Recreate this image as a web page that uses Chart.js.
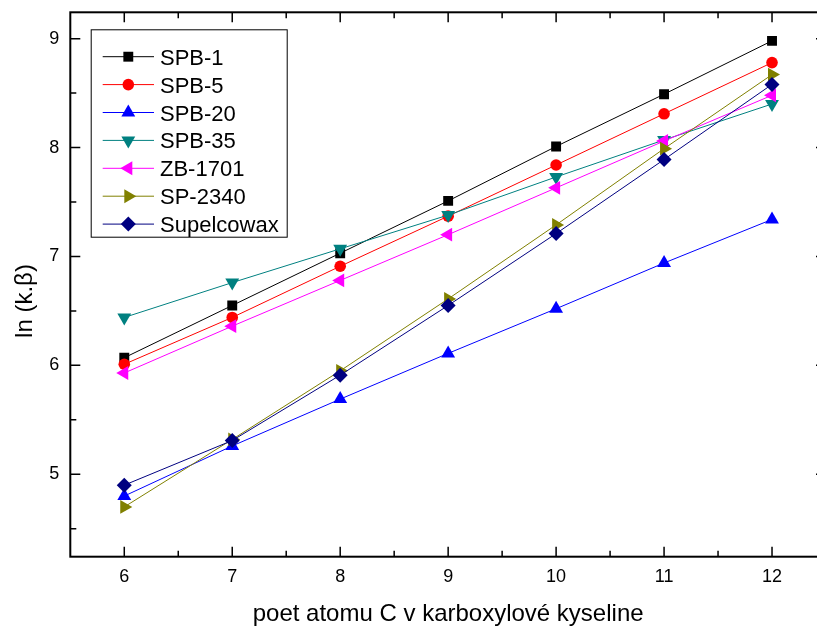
<!DOCTYPE html>
<html>
<head>
<meta charset="utf-8">
<script src="https://cdn.jsdelivr.net/npm/chart.js@4/dist/chart.umd.min.js"></script>
<style>
  html, body { margin: 0; padding: 0; background: #fff; overflow: hidden; width: 817px; height: 626px; }
  #wrap { position: relative; width: 830px; height: 626px; }
  canvas { display: block; }
</style>
</head>
<body>
<div id="wrap"><canvas id="c" width="830" height="626"></canvas></div>
<script>
// Number of carbon atoms in the carboxylic acid
const carbonAtoms = [6, 7, 8, 9, 10, 11, 12];

// ln(k.beta) per stationary phase
const spb1       = [6.07, 6.55, 7.03, 7.51, 8.01, 8.49, 8.98];
const spb5       = [6.01, 6.44, 6.91, 7.37, 7.84, 8.31, 8.78];
const spb20      = [4.80, 5.26, 5.69, 6.11, 6.52, 6.94, 7.34];
const spb35      = [6.44, 6.76, 7.07, 7.38, 7.73, 8.07, 8.40];
const zb1701     = [5.93, 6.36, 6.78, 7.20, 7.63, 8.06, 8.48];
const sp2340     = [4.70, 5.32, 5.95, 6.61, 7.29, 7.99, 8.67];
const supelcowax = [4.90, 5.31, 5.91, 6.55, 7.21, 7.89, 8.58];

const seriesNames = ['SPB-1', 'SPB-5', 'SPB-20', 'SPB-35', 'ZB-1701', 'SP-2340', 'Supelcowax'];
const seriesValues = [spb1, spb5, spb20, spb35, zb1701, sp2340, supelcowax];

// Tick labels
const xTicks = [6, 7, 8, 9, 10, 11, 12];
const yTicks = [5, 6, 7, 8, 9];

const xTitle = 'poet atomu C v karboxylové kyseline';
const yTitle = 'ln (k.\u03B2)';

// Marker / line styling for each series
const styles = [
  { color: '#000000', pointStyle: 'rect',     rotation: 0,   radius: 7   },
  { color: '#ff0000', pointStyle: 'circle',   rotation: 0,   radius: 5.8 },
  { color: '#0000ff', pointStyle: 'triangle', rotation: 0,   radius: 8   },
  { color: '#008080', pointStyle: 'triangle', rotation: 180, radius: 8   },
  { color: '#ff00ff', pointStyle: 'triangle', rotation: 270, radius: 8   },
  { color: '#808000', pointStyle: 'triangle', rotation: 90,  radius: 8   },
  { color: '#000080', pointStyle: 'rectRot',  rotation: 0,   radius: 7.5 }
];

const FONT = '"Liberation Sans", Arial, Helvetica, sans-serif';

const datasets = seriesNames.map((name, i) => ({
  label: name,
  data: carbonAtoms.map((x, j) => ({ x: x, y: seriesValues[i][j] })),
  borderColor: styles[i].color,
  backgroundColor: styles[i].color,
  borderWidth: 1,
  tension: 0,
  pointStyle: styles[i].pointStyle,
  pointRotation: styles[i].rotation,
  pointRadius: styles[i].radius,
  pointHoverRadius: styles[i].radius,
  pointBorderWidth: 0,
  pointBackgroundColor: styles[i].color,
  order: seriesNames.length - 1 - i
}));

function drawMarker(ctx, st, x, y) {
  ctx.save();
  ctx.fillStyle = st.color;
  ctx.strokeStyle = st.color;
  if (Chart.helpers && Chart.helpers.drawPoint) {
    Chart.helpers.drawPoint(ctx, { pointStyle: st.pointStyle, rotation: st.rotation, radius: st.radius, borderWidth: 0 }, x, y);
  }
  ctx.restore();
}

// Frame, inward ticks, axis titles and the boxed legend
const framePlugin = {
  id: 'frame',
  afterDatasetsDraw(chart) {
    const ctx = chart.ctx;
    const a = chart.chartArea;
    const xs = chart.scales.x, ys = chart.scales.y;
    ctx.save();
    ctx.strokeStyle = '#000';
    ctx.lineWidth = 1.5;
    // major + minor ticks on all four sides, pointing inward
    const xMinor = xTicks.slice(0, -1).map(v => v + 0.5);
    const yMinor = [4.5].concat(yTicks.map(v => v + 0.5)).filter(v => v < ys.max);
    ctx.beginPath();
    xTicks.forEach(v => { const p = xs.getPixelForValue(v);
      ctx.moveTo(p, a.bottom); ctx.lineTo(p, a.bottom - 10);
      ctx.moveTo(p, a.top); ctx.lineTo(p, a.top + 10); });
    xMinor.forEach(v => { const p = xs.getPixelForValue(v);
      ctx.moveTo(p, a.bottom); ctx.lineTo(p, a.bottom - 6);
      ctx.moveTo(p, a.top); ctx.lineTo(p, a.top + 6); });
    yTicks.forEach(v => { const p = ys.getPixelForValue(v);
      ctx.moveTo(a.left, p); ctx.lineTo(a.left + 10, p);
      ctx.moveTo(a.right, p); ctx.lineTo(a.right - 10, p); });
    yMinor.forEach(v => { const p = ys.getPixelForValue(v);
      ctx.moveTo(a.left, p); ctx.lineTo(a.left + 6, p);
      ctx.moveTo(a.right, p); ctx.lineTo(a.right - 6, p); });
    ctx.stroke();
    ctx.lineWidth = 2;
    ctx.strokeRect(a.left, a.top, a.right - a.left, a.bottom - a.top);

    // axis titles
    ctx.fillStyle = '#000';
    ctx.font = '24px ' + FONT;
    ctx.textAlign = 'center';
    ctx.textBaseline = 'alphabetic';
    ctx.fillText(xTitle, (a.left + a.right) / 2, 620.5);
    ctx.save();
    ctx.translate(31.5, 301);
    ctx.rotate(-Math.PI / 2);
    ctx.fillText(yTitle, 0, 0);
    ctx.restore();

    // legend
    const lx = 90.7, ly = 29.3, lw = 196, lh = 207.4;
    ctx.fillStyle = '#fff';
    ctx.fillRect(lx, ly, lw, lh);
    ctx.lineWidth = 1;
    ctx.strokeStyle = '#000';
    ctx.strokeRect(lx + 0.5, ly + 0.5, lw, lh);
    ctx.font = '22px ' + FONT;
    ctx.textAlign = 'left';
    chart.data.datasets.forEach((ds, i) => {
      const cy = 56.7 + i * 27.9;
      const st = styles[i];
      ctx.strokeStyle = st.color;
      ctx.lineWidth = 1;
      ctx.beginPath();
      ctx.moveTo(102.7, cy); ctx.lineTo(154, cy);
      ctx.stroke();
      drawMarker(ctx, st, 128.3, cy);
      ctx.fillStyle = '#000';
      ctx.fillText(ds.label, 160, cy + 8);
    });
    ctx.restore();
  }
};

new Chart(document.getElementById('c'), {
  type: 'line',
  data: { datasets: datasets },
  plugins: [framePlugin],
  options: {
    responsive: false,
    animation: false,
    devicePixelRatio: 1,
    layout: { autoPadding: false, padding: { top: 12.3, right: 4, left: 0, bottom: 0 } },
    plugins: { legend: { display: false }, tooltip: { enabled: false } },
    events: [],
    scales: {
      x: {
        type: 'linear',
        min: 5.5,
        max: 12.5,
        afterFit(s) { s.height = 69.3; s.paddingLeft = 0; s.paddingRight = 0; },
        afterBuildTicks(s) { s.ticks = xTicks.map(v => ({ value: v })); },
        grid: { display: false, drawTicks: false },
        border: { display: false },
        ticks: { color: '#000', padding: 10, font: { family: FONT, size: 18 }, maxRotation: 0, callback: v => String(v) }
      },
      y: {
        type: 'linear',
        min: 4.243,
        max: 9.242,
        afterFit(s) { s.width = 70.3; s.paddingTop = 0; s.paddingBottom = 0; },
        afterBuildTicks(s) { s.ticks = yTicks.map(v => ({ value: v })); },
        grid: { display: false, drawTicks: false },
        border: { display: false },
        ticks: { color: '#000', padding: 11, font: { family: FONT, size: 18 }, callback: v => String(v) }
      }
    }
  }
});
</script>
</body>
</html>
